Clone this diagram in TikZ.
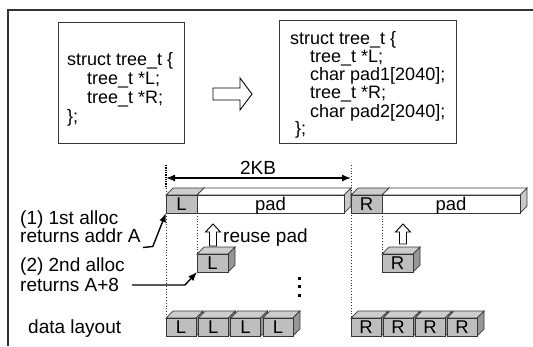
\documentclass[tikz,border=0pt]{standalone}
\usepackage{fontspec}
\setmainfont{Liberation Sans}
\usetikzlibrary{arrows.meta}
\definecolor{blkfront}{RGB}{190,190,190}
\definecolor{blktop}{RGB}{205,205,205}
\definecolor{blkside}{RGB}{150,150,150}
\definecolor{padside}{RGB}{200,200,200}
\definecolor{edge}{RGB}{55,55,55}
\tikzset{
  pics/blk/.style n args={6}{code={
    \path[draw=edge, line width=0.7pt, fill=#4] (0,0) -- (7,-7) -- (#1+7,-7) -- (#1,0) -- cycle;
    \path[draw=edge, line width=0.7pt, fill=#5] (#1,0) -- (#1+7,-7) -- (#1+7,#2-7) -- (#1,#2) -- cycle;
    \path[draw=edge, line width=0.7pt, fill=#3] (0,0) rectangle (#1,#2);
    \node[inner sep=0pt, anchor=base, font=\fontsize{18.5}{20}\selectfont] (-lbl) at (#1/2,#2/2+6.5) {#6};
    \coordinate (-tl) at (0,0);
    \coordinate (-bl) at (0,#2);
    \coordinate (-br) at (#1,#2);
  }}
}
\begin{document}
\begin{tikzpicture}[x=1pt,y=-1pt,
  txt/.style={inner sep=0pt, anchor=base west, font=\fontsize{18}{20}\selectfont},
  lbl/.style={inner sep=0pt, anchor=base west, font=\fontsize{19}{21}\selectfont},
  codebox/.style={draw=edge, line width=1pt, fill=white, inner sep=0pt},
  dotln/.style={dotted, line width=0.8pt, black!80},
  ptr/.style={line width=1.4pt, -{Latex[length=9pt,width=7pt]}},
  hollow/.style={draw=black, line width=0.9pt, fill=white}]
\useasboundingbox (0,0) rectangle (533,346);
% frame
\draw[line width=1.3pt, black!80] (8,346) -- (8,10) -- (533,10);
% code boxes
\node[codebox, minimum width=126pt, minimum height=121pt] (lbox) at (121,82.5) {};
\node[codebox, minimum width=177pt, minimum height=123pt] (rbox) at (367.5,81.5) {};
\node[txt] (l1) at (67,65.5) {struct tree\_t \{};
\node[txt] (l2) at (87,84.5) {tree\_t *L;};
\node[txt] (l3) at (87,103.5) {tree\_t *R;};
\node[txt] (l4) at (67,122.5) {\};};
\node[txt] (r1) at (290,44.5) {struct tree\_t \{};
\node[txt] (r2) at (310,62.5) {tree\_t *L;};
\node[txt] (r3) at (310,80.5) {char pad1[2040];};
\node[txt] (r4) at (310,98.5) {tree\_t *R;};
\node[txt] (r5) at (310,117.5) {char pad2[2040];};
\node[txt] (r6) at (295,134.5) {\};};
% big hollow arrow
\draw[hollow] (213,88) -- (240,88) -- (240,78) -- (252,94) -- (240,110) -- (240,100) -- (213,100) -- cycle;
% 2KB dimension
\coordinate (kbL) at (166,178);
\coordinate (kbR) at (351,178);
\draw[densely dotted, line width=1.3pt] (166,165) -- (166,188);
\draw[dotln] (166,188) -- (166,318);
\draw[dotln] (351,165) -- (351,318);
\draw[dotln] (197,213) -- (197,254);
\draw[dotln] (382,213) -- (382,254);
\draw[line width=1.5pt, {Latex[length=9pt,width=7pt]}-{Latex[length=9pt,width=7pt]}] (kbL) -- (kbR);
\node[lbl, anchor=base] (kb) at (258,174.5) {2KB};
% bar
\pic (bL) at (166,195) {blk={31}{18}{blkfront}{blktop}{blkside}{L}};
\pic (pad1) at (197,195) {blk={147}{18}{white}{white}{padside}{pad}};
\pic (bR) at (351,195) {blk={31}{18}{blkfront}{blktop}{blkside}{R}};
\pic (pad2) at (382,195) {blk={138}{18}{white}{white}{padside}{pad}};
% second allocation blocks
\pic (L2) at (197,254) {blk={31}{18}{blkfront}{blktop}{blkside}{L}};
\pic (R2) at (382,254) {blk={31}{18}{blkfront}{blktop}{blkside}{R}};
% reuse arrows
\draw[hollow] (209.5,246) -- (209.5,232) -- (205.5,232) -- (213,224) -- (220.5,232) -- (216.5,232) -- (216.5,246) -- cycle;
\draw[hollow] (399.5,244) -- (399.5,232) -- (395.5,232) -- (403,224) -- (410.5,232) -- (406.5,232) -- (406.5,244) -- cycle;
\node[lbl] (reuse) at (223,242.5) {reuse pad};
% data layout
\pic (dl1) at (166,318) {blk={30}{18}{blkfront}{blktop}{blkside}{L}};
\pic (dl2) at (198.3,318) {blk={30}{18}{blkfront}{blktop}{blkside}{L}};
\pic (dl3) at (230.6,318) {blk={30}{18}{blkfront}{blktop}{blkside}{L}};
\pic (dl4) at (262.9,318) {blk={30}{18}{blkfront}{blktop}{blkside}{L}};
\pic (dr1) at (351,318) {blk={30}{18}{blkfront}{blktop}{blkside}{R}};
\pic (dr2) at (383,318) {blk={30}{18}{blkfront}{blktop}{blkside}{R}};
\pic (dr3) at (415,318) {blk={30}{18}{blkfront}{blktop}{blkside}{R}};
\pic (dr4) at (447,318) {blk={30}{18}{blkfront}{blktop}{blkside}{R}};
% labels
\node[lbl] (a1) at (20,224.5) {(1) 1st alloc};
\node[lbl] (a1b) at (20,242.5) {returns addr A};
\node[lbl] (a2) at (20,271.5) {(2) 2nd alloc};
\node[lbl] (a2b) at (20,291.5) {returns A+8};
\node[lbl] (dl) at (28,333.5) {data layout};
\draw[ptr] ([xshift=2pt,yshift=-5pt]a1b.base east) -- ++(10,-1) -- (bL-bl);
\draw[ptr] (132,285) -- (185,285) -- (L2-bl);
% vertical dots
\fill (297.5,276.5) rectangle ++(3,3);
\fill (297.5,285) rectangle ++(3,3);
\fill (297.5,293.5) rectangle ++(3,3);
\end{tikzpicture}
\end{document}
